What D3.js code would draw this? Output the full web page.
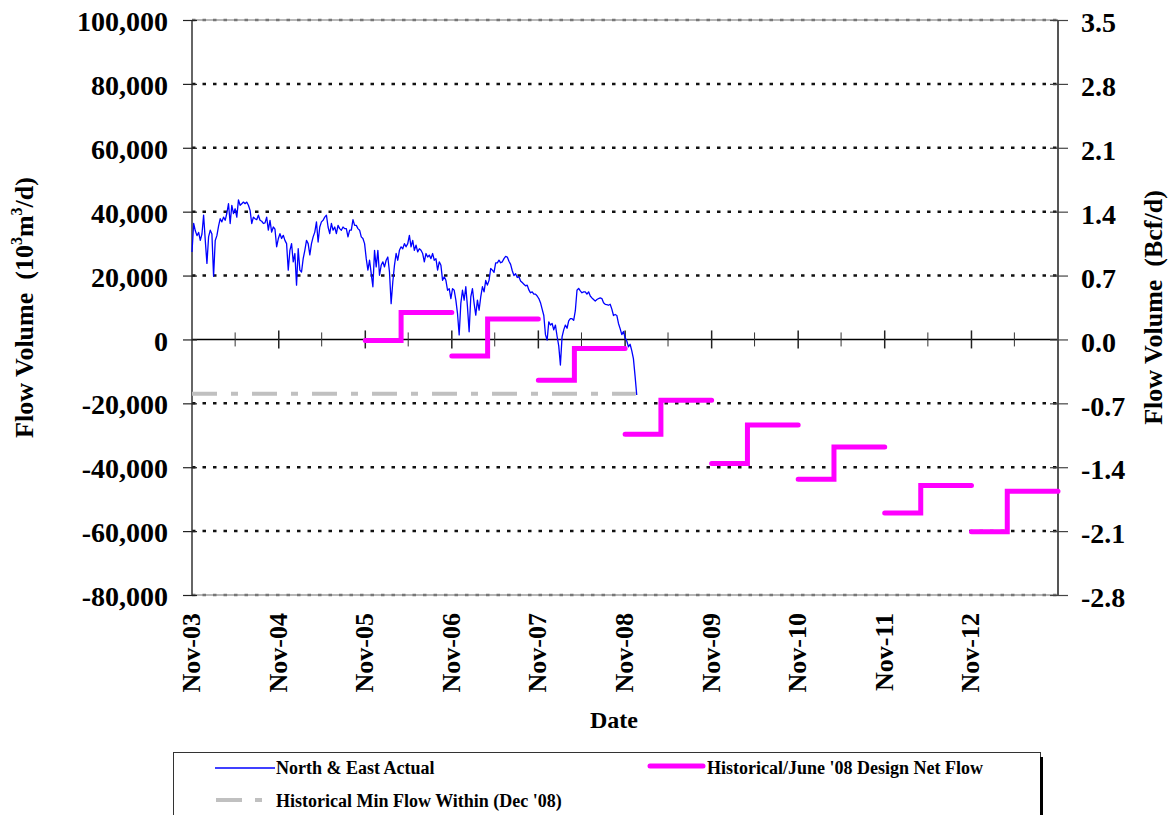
<!DOCTYPE html>
<html>
<head>
<meta charset="utf-8">
<script src="https://cdn.jsdelivr.net/npm/d3@7"></script>
<style>
  body { margin: 0; background: #fff; }
  text { font-family: "Liberation Serif", "Times New Roman", serif; font-weight: bold; fill: #000; }
</style>
</head>
<body>
<svg id="chart" width="1169" height="815"></svg>
<script>
// ---------------- DATA ----------------
// North & East Actual flow (10^3 m^3/d), weekly readings starting Nov 1, 2003
const actualStart = "2003-11-01";
const actualFlow = [
  27400, 36300, 34000, 32500, 33500, 31000, 33000, 38900, 31000, 23800,
  32100, 34200, 33000, 19800, 31000, 32500, 35500, 37800, 36800, 38300,
  37300, 39500, 42500, 36300, 42000, 39400, 40900, 38300, 43700, 42000,
  42500, 43000, 42500, 43000, 42000, 40400, 36300, 38300, 37800, 37500,
  38900, 37300, 37000, 36300, 36500, 38300, 34200, 37300, 33600, 35200,
  34500, 29000, 31500, 33100, 31600, 32600, 31000, 30000, 21700, 27900,
  30000, 24300, 26900, 17000, 28400, 21700, 21100, 25300, 27900, 31000,
  30000, 26500, 30000, 32100, 33600, 36800, 30500, 35200, 36800, 37300,
  38300, 38900, 35200, 33100, 36300, 34200, 35200, 33100, 35700, 34700,
  34200, 35200, 34700, 34700, 32100, 34200, 34200, 37500, 35700, 35700,
  34700, 34200, 32100, 31600, 30000, 25300, 21700, 24800, 20600, 16500,
  27900, 22700, 27900, 20100, 23200, 24300, 22700, 24800, 25800, 21100,
  11200, 18000, 23200, 26900, 24800, 27900, 29000, 28400, 30000, 29000,
  30000, 32600, 29000, 31000, 27900, 29500, 27400, 28400, 27900, 26900,
  24300, 26900, 25800, 26400, 25300, 26900, 24800, 25300, 21700, 24300,
  23200, 18500, 19600, 18500, 15400, 15900, 12800, 15900, 15400, 12300,
  8100, 1400, 11300, 15400, 12300, 16500, 10200, 2400, 13300, 15900,
  11300, 7600, 12300, 9200, 13300, 16500, 14900, 18500, 17000, 18500,
  22200, 21700, 21000, 24000, 24000, 24800, 24000, 24300, 25300, 26000,
  25800, 24500, 23500, 21500, 20000, 20600, 19400, 19600, 18300, 17800,
  17300, 16800, 17000, 15500, 14600, 14900, 14200, 14200, 13600, 12800,
  11500, 9500, 7500, 1500, -200, 5500, 4500, 5000, 3000, 4500,
  1000, -2000, -8000, 800, 3000, 4500, 3500, 5800, 6500, 6500,
  6000, 9000, 15400, 16000, 15200, 14600, 14900, 14900, 14200, 14900,
  13600, 13000, 12500, 12000, 12500, 12800, 13000, 12800, 11500, 11000,
  10900, 10700, 11000, 9500, 7500, 7800, 7500, 5000, 3400, 1500,
  2500, 500, -500, -2300, -1500, -3500, -6000, -11500, -17400
];

// Historical Min Flow Within (Dec '08)
const minFlowValue = -17000;
const minFlowDates = ["2003-11-01", "2008-12-16"];

// Historical/June '08 Design Net Flow: winter (Nov-Mar) and summer (Apr-Oct) values
const designYears = ["2005-11-01", "2006-11-01", "2007-11-01", "2008-11-01",
                     "2009-11-01", "2010-11-01", "2011-11-01", "2012-11-01"];
const designWinter = [-300, -5200, -12800, -29700, -38800, -43800, -54300, -60200];
const designSummer = [8400, 6400, -2800, -19000, -26800, -33700, -45700, -47500];

// Axis ticks
const leftTicks = [-80000, -60000, -40000, -20000, 0, 20000, 40000, 60000, 80000, 100000];
const rightTicks = [-2.8, -2.1, -1.4, -0.7, 0.0, 0.7, 1.4, 2.1, 2.8, 3.5];
const xTickDates = ["2003-11-01", "2004-11-01", "2005-11-01", "2006-11-01", "2007-11-01",
                    "2008-11-01", "2009-11-01", "2010-11-01", "2011-11-01", "2012-11-01"];
const xTickLabels = ["Nov-03", "Nov-04", "Nov-05", "Nov-06", "Nov-07",
                     "Nov-08", "Nov-09", "Nov-10", "Nov-11", "Nov-12"];
const xDomain = ["2003-11-01", "2013-11-01"];

// ---------------- CHART ----------------
const parse = d3.utcParse("%Y-%m-%d");
const svg = d3.select("#chart");
const locale = d3.formatLocale({ decimal: ".", thousands: ",", grouping: [3], currency: ["$", ""], minus: "-" });

const L = 192, R = 1058, T = 20, B = 595;
const x = d3.scaleUtc().domain(xDomain.map(parse)).range([L, R]);
const y = d3.scaleLinear().domain([-80000, 100000]).range([B, T]);
const yR = d3.scaleLinear().domain([-2.8, 3.5]).range([B, T]);

// Grid lines
const grid = svg.append("g");
leftTicks.forEach(v => {
  if (v === 0) return;
  const border = (v === 100000 || v === -80000);
  if (border) {
    grid.append("line").attr("x1", L).attr("x2", R).attr("y1", y(v)).attr("y2", y(v))
      .attr("stroke", "#a0a0a0").attr("stroke-width", 1.5);
    grid.append("line").attr("x1", L).attr("x2", R).attr("y1", y(v)).attr("y2", y(v))
      .attr("stroke", "#777").attr("stroke-width", 2.5).attr("stroke-dasharray", "3.5,7");
  } else {
    grid.append("line").attr("x1", L).attr("x2", R).attr("y1", y(v)).attr("y2", y(v))
      .attr("stroke", "#111").attr("stroke-width", 2.5).attr("stroke-dasharray", "3.5,7");
  }
});

// Zero line
svg.append("line").attr("x1", L).attr("x2", R).attr("y1", y(0)).attr("y2", y(0))
  .attr("stroke", "#000").attr("stroke-width", 1.5);

// Zero-line ticks (years major, half-years minor)
const xt = svg.append("g");
xTickDates.map(parse).forEach((d, i) => {
  if (i > 0) {
    xt.append("line").attr("x1", x(d)).attr("x2", x(d)).attr("y1", y(0) - 9).attr("y2", y(0) + 9)
      .attr("stroke", "#222").attr("stroke-width", 1.5);
  }
  const m = d3.utcMonth.offset(d, 6);
  xt.append("line").attr("x1", x(m)).attr("x2", x(m)).attr("y1", y(0) - 7).attr("y2", y(0) + 7)
    .attr("stroke", "#333").attr("stroke-width", 1);
});

// Axis lines
svg.append("line").attr("x1", L).attr("x2", L).attr("y1", T).attr("y2", B)
  .attr("stroke", "#333").attr("stroke-width", 1.5);
svg.append("line").attr("x1", R).attr("x2", R).attr("y1", T).attr("y2", B)
  .attr("stroke", "#555").attr("stroke-width", 2);

// Left axis labels
const yAxisL = d3.axisLeft(y).tickValues(leftTicks).tickFormat(locale.format(",")).tickSize(14).tickPadding(10);
const gL = svg.append("g").attr("transform", `translate(${L + 5},0)`).call(yAxisL);
gL.select(".domain").remove();
gL.selectAll(".tick line").attr("stroke", "#222").attr("stroke-width", 1.2);
gL.selectAll(".tick text").attr("font-size", 28).attr("dy", "0.38em")
  .style("font-family", '"Liberation Serif","Times New Roman",serif').style("font-weight", "bold")
  .attr("x", -(L + 5 - 168));

// Right axis labels
const yAxisR = d3.axisRight(yR).tickValues(rightTicks).tickFormat(locale.format(".1f")).tickSize(18).tickPadding(5);
const gR = svg.append("g").attr("transform", `translate(${R - 8},0)`).call(yAxisR);
gR.select(".domain").remove();
gR.selectAll(".tick line").attr("stroke", "#444").attr("stroke-width", 1.2);
gR.selectAll(".tick text").attr("font-size", 28).attr("dy", "0.42em")
  .style("font-family", '"Liberation Serif","Times New Roman",serif').style("font-weight", "bold")
  .attr("x", 1081 - (R - 8));

// X tick labels (rotated)
xTickDates.map(parse).forEach((d, i) => {
  svg.append("text")
    .attr("transform", `translate(${x(d) + 8},613) rotate(-90)`)
    .attr("text-anchor", "end")
    .attr("font-size", 26)
    .text(xTickLabels[i]);
});

// Historical min flow (gray dash-dot)
const minLine = d3.line().x(d => x(d[0])).y(d => y(d[1]));
svg.append("path")
  .datum(minFlowDates.map(s => [parse(s), minFlowValue]))
  .attr("d", minLine)
  .attr("fill", "none").attr("stroke", "#c0c0c0").attr("stroke-width", 4)
  .attr("stroke-dasharray", "25,14,7,14");

// Design net flow (magenta steps)
const stepLine = d3.line().x(d => x(d[0])).y(d => y(d[1])).curve(d3.curveStepAfter);
designYears.forEach((s, i) => {
  const d0 = parse(s);
  const dApr = d3.utcMonth.offset(d0, 5);
  const d1 = d3.utcYear.offset(d0, 1);
  svg.append("path")
    .datum([[d0, designWinter[i]], [dApr, designSummer[i]], [d1, designSummer[i]]])
    .attr("d", stepLine)
    .attr("fill", "none").attr("stroke", "#ff00ff").attr("stroke-width", 5)
    .attr("stroke-linecap", "round").attr("stroke-linejoin", "miter");
});

// Actual flow (blue)
const start = parse(actualStart);
const actualLine = d3.line().x((d, i) => x(d3.utcDay.offset(start, 7 * i))).y(d => y(d));
svg.append("path")
  .datum(actualFlow)
  .attr("d", actualLine)
  .attr("fill", "none").attr("stroke", "#0000ff").attr("stroke-width", 1.3)
  .attr("stroke-linejoin", "round");

// Axis titles
const lt = svg.append("text")
  .attr("transform", `translate(33,${(T + B) / 2}) rotate(-90)`)
  .attr("text-anchor", "middle").attr("font-size", 26);
lt.append("tspan").text("Flow Volume\u00a0\u00a0(10");
lt.append("tspan").attr("font-size", 16).attr("dy", -11).text("3");
lt.append("tspan").attr("dy", 11).text("m");
lt.append("tspan").attr("font-size", 16).attr("dy", -11).text("3");
lt.append("tspan").attr("dy", 11).text("/d)");

svg.append("text")
  .attr("transform", `translate(1162,${(T + B) / 2}) rotate(-90)`)
  .attr("text-anchor", "middle").attr("font-size", 26)
  .text("Flow Volume\u00a0\u00a0(Bcf/d)");

svg.append("text").attr("x", 614).attr("y", 728).attr("text-anchor", "middle")
  .attr("font-size", 24).text("Date");

// Legend
const lg = svg.append("g");
lg.append("rect").attr("x", 173.5).attr("y", 752.5).attr("width", 867).attr("height", 80)
  .attr("fill", "#fff").attr("stroke", "#333").attr("stroke-width", 1);
lg.append("line").attr("x1", 1041.5).attr("x2", 1041.5).attr("y1", 757).attr("y2", 815)
  .attr("stroke", "#000").attr("stroke-width", 3);

lg.append("line").attr("x1", 215).attr("x2", 275).attr("y1", 768).attr("y2", 768)
  .attr("stroke", "#0000ff").attr("stroke-width", 1.3);
lg.append("text").attr("x", 276).attr("y", 774).attr("font-size", 18).text("North & East Actual");

lg.append("line").attr("x1", 650).attr("x2", 703).attr("y1", 766).attr("y2", 766)
  .attr("stroke", "#ff00ff").attr("stroke-width", 5).attr("stroke-linecap", "round");
lg.append("text").attr("x", 707).attr("y", 774).attr("font-size", 18).text("Historical/June '08 Design Net Flow");

lg.append("line").attr("x1", 216).attr("x2", 262).attr("y1", 800).attr("y2", 800)
  .attr("stroke", "#c0c0c0").attr("stroke-width", 4).attr("stroke-dasharray", "26,13,7,14");
lg.append("text").attr("x", 276).attr("y", 807).attr("font-size", 18).text("Historical Min Flow Within (Dec '08)");
</script>
</body>
</html>
